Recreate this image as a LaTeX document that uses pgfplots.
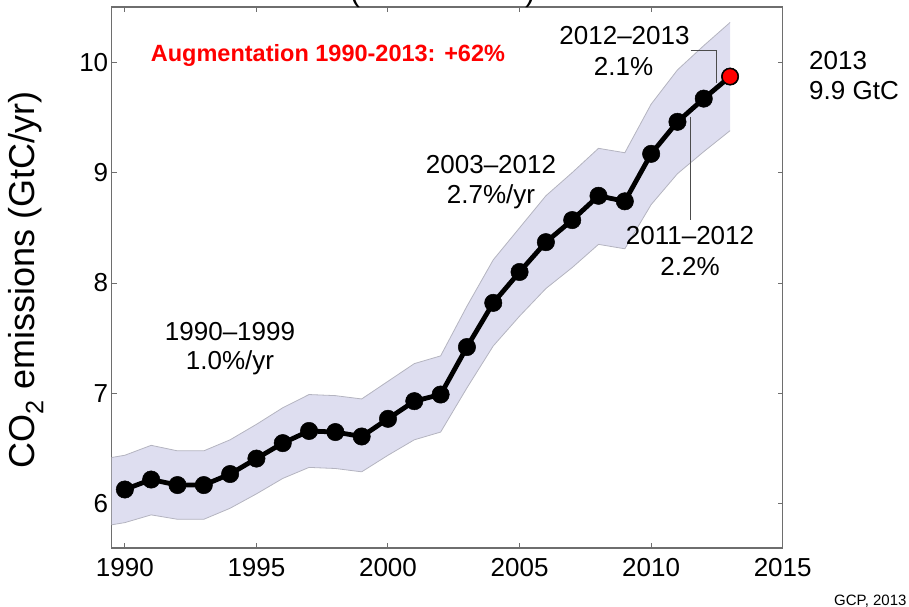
\documentclass[border=0pt]{standalone}
\usepackage{fontspec}
\setmainfont{Liberation Sans}
\usepackage{pgfplots}
\pgfplotsset{compat=1.18}
\usepackage{pgfplotstable}

\definecolor{bandfill}{RGB}{222,222,240}
\definecolor{bandedge}{RGB}{180,180,192}
\definecolor{axisgray}{RGB}{110,110,110}
\definecolor{hotred}{RGB}{255,0,0}

% Uncertainty range of global fossil CO2 emissions (GtC/yr)
\pgfplotstableread{
year   hi     lo
1989.5 6.42   5.81
1990   6.44   5.83
1991   6.53   5.90
1992   6.48   5.86
1993   6.48   5.86
1994   6.58   5.96
1995   6.72   6.09
1996   6.87   6.23
1997   6.99   6.33
1998   6.98   6.32
1999   6.95   6.29
2000   7.11   6.44
2001   7.27   6.58
2002   7.34   6.65
2003   7.79   7.05
2004   8.21   7.43
2005   8.50   7.70
2006   8.79   7.95
2007   9.00   8.14
2008   9.22   8.35
2009   9.18   8.31
2010   9.62   8.71
2011   9.93   8.99
2012   10.15  9.19
2013   10.36  9.38
}\emisband

% Outline of the same range, upper edge forward then lower edge back
\pgfplotstableread{
year   y
1989.5 6.42
1990   6.44
1991   6.53
1992   6.48
1993   6.48
1994   6.58
1995   6.72
1996   6.87
1997   6.99
1998   6.98
1999   6.95
2000   7.11
2001   7.27
2002   7.34
2003   7.79
2004   8.21
2005   8.50
2006   8.79
2007   9.00
2008   9.22
2009   9.18
2010   9.62
2011   9.93
2012   10.15
2013   10.36
2013   9.38
2012   9.19
2011   8.99
2010   8.71
2009   8.31
2008   8.35
2007   8.14
2006   7.95
2005   7.70
2004   7.43
2003   7.05
2002   6.65
2001   6.58
2000   6.44
1999   6.29
1998   6.32
1997   6.33
1996   6.23
1995   6.09
1994   5.96
1993   5.86
1992   5.86
1991   5.90
1990   5.83
1989.5 5.81
}\emisoutline

% Yearly emissions (GtC/yr)
\pgfplotstableread{
year val
1990 6.13
1991 6.22
1992 6.17
1993 6.17
1994 6.27
1995 6.41
1996 6.55
1997 6.66
1998 6.65
1999 6.61
2000 6.77
2001 6.93
2002 6.99
2003 7.42
2004 7.82
2005 8.10
2006 8.37
2007 8.57
2008 8.79
2009 8.74
2010 9.17
2011 9.46
2012 9.67
2013 9.87
}\emisyearly

\pgfplotstableread{
year val
2013 9.87
}\emislatest

\newcommand{\annfont}{\fontsize{26bp}{30bp}\selectfont}

\begin{document}
\begin{tikzpicture}
\path[use as bounding box] (0bp,0bp) rectangle (909bp,607bp);
\begin{axis}[
  at={(111.7bp,59bp)}, anchor=south west,
  scale only axis, width=671bp, height=541bp,
  xmin=1989.5, xmax=2015, ymin=5.6, ymax=10.5,
  xtick={1990,1995,2000,2005,2010,2015},
  ytick={6,7,8,9,10},
  axis line style={axisgray, line width=1.2bp},
  tick style={axisgray, line width=1bp},
  major tick length=5bp,
  tick align=inside,
  tick label style={font=\annfont, black},
  xticklabel style={yshift=-7bp},
  /pgf/number format/assume math mode=true,
  /pgf/number format/1000 sep={},
  ylabel={CO\textsubscript{2} emissions (GtC/yr)},
  ylabel style={font=\fontsize{36bp}{40bp}\selectfont,
    at={(axis description cs:-0.128,0.495)}, anchor=center},
]
  \addplot[fill=bandfill, draw=none] table[x=year, y=y] {\emisoutline} -- cycle;
  \addplot[draw=bandedge, line width=0.8bp] table[x=year, y=hi] {\emisband};
  \addplot[draw=bandedge, line width=0.8bp] table[x=year, y=lo] {\emisband};

  \addplot[black, line width=4.8bp, mark=*, mark size=8.7bp,
    mark options={fill=black, line width=0.5bp}] table[x=year, y=val] {\emisyearly};
  \addplot[only marks, mark=*, mark size=8bp,
    mark options={fill=hotred, draw=black, line width=1.2bp}] table[x=year, y=val] {\emislatest};
\end{axis}

% annotations
\node[anchor=base west, inner sep=0, text=hotred,
  font=\bfseries\fontsize{23.5bp}{28bp}\selectfont] at (150.7bp,545.3bp)
  {Augmentation 1990-2013: +62\%};

\node[anchor=base, inner sep=0, font=\annfont] at (624.5bp,562bp) {2012--2013};
\node[anchor=base, inner sep=0, font=\annfont] at (623.5bp,531bp) {2.1\%};
\draw[black!70, line width=0.9bp] (690.7bp,556.3bp) -- (716.7bp,556.3bp) -- (716.7bp,523.7bp);

\node[anchor=base, inner sep=0, font=\annfont] at (690bp,362bp) {2011--2012};
\node[anchor=base, inner sep=0, font=\annfont] at (690bp,331bp) {2.2\%};
\draw[black!70, line width=0.9bp] (690bp,490.3bp) -- (690bp,387bp);

\node[anchor=base, inner sep=0, font=\annfont] at (491bp,433.7bp) {2003--2012};
\node[anchor=base, inner sep=0, font=\annfont] at (491bp,403.7bp) {2.7\%/yr};

\node[anchor=base, inner sep=0, font=\annfont] at (230bp,266bp) {1990--1999};
\node[anchor=base, inner sep=0, font=\annfont] at (230bp,237bp) {1.0\%/yr};

\node[anchor=base west, inner sep=0, font=\annfont] at (809bp,537bp) {2013};
\node[anchor=base west, inner sep=0, font=\annfont] at (809bp,507bp) {9.9 GtC};

\node[anchor=base east, inner sep=0, font=\fontsize{15bp}{18bp}\selectfont] at (906.7bp,2bp) {GCP, 2013};

% title brackets running off the top edge
\node[anchor=base, inner sep=0, font=\fontsize{30bp}{34bp}\selectfont] at (355bp,605bp) {(};
\node[anchor=base, inner sep=0, font=\fontsize{30bp}{34bp}\selectfont] at (530bp,605bp) {)};
\end{tikzpicture}
\end{document}
